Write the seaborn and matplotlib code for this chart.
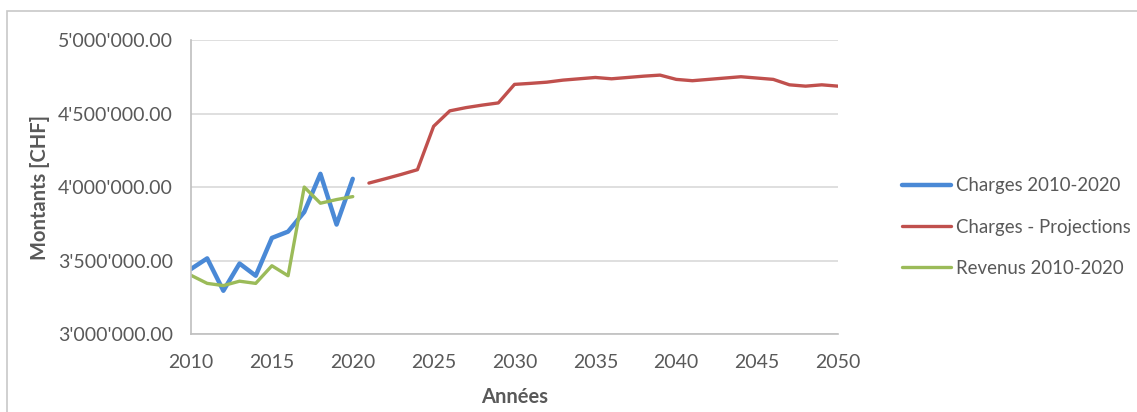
import numpy as np
import pandas as pd
import matplotlib.pyplot as plt
import seaborn as sns
from matplotlib.patches import Rectangle
from matplotlib.ticker import FuncFormatter

# Data
years_hist = list(range(2010, 2021))
charges_hist = [3443000, 3515000, 3295000, 3480000, 3397000, 3654000,
                3697000, 3830000, 4090000, 3745000, 4056000]
revenus_hist = [3400000, 3345000, 3330000, 3360000, 3345000, 3465000,
                3397000, 4000000, 3890000, 3915000, 3935000]

years_proj = list(range(2021, 2051))
charges_proj = [4027000, 4056000, 4086000, 4118000, 4413000, 4518000,
                4540000, 4557000, 4572000, 4698000, 4705000, 4713000,
                4727000, 4736000, 4745000, 4736000, 4745000, 4754000,
                4761000, 4732000, 4723000, 4732000, 4741000, 4750000,
                4741000, 4732000, 4695000, 4686000, 4695000, 4686000]

df_hist = pd.DataFrame({'Annee': years_hist, 'Charges': charges_hist, 'Revenus': revenus_hist})
df_proj = pd.DataFrame({'Annee': years_proj, 'Charges': charges_proj})

sns.set_theme(style='white')
plt.rcParams['font.family'] = ['Lato', 'DejaVu Sans']

fig = plt.figure(figsize=(11.37, 4.12), dpi=100)
ax = fig.add_axes([0.168, 0.189, 0.569, 0.714])

sns.lineplot(data=df_hist, x='Annee', y='Charges', ax=ax, color='#4a89d6', lw=3.2,
             label='Charges 2010-2020')
sns.lineplot(data=df_proj, x='Annee', y='Charges', ax=ax, color='#c0504d', lw=2.4,
             label='Charges - Projections')
sns.lineplot(data=df_hist, x='Annee', y='Revenus', ax=ax, color='#9bbb59', lw=2.4,
             label='Revenus 2010-2020')

ax.set_xlim(2010, 2050)
ax.set_ylim(3000000, 5000000)
ax.set_xticks(range(2010, 2051, 5))
ax.set_yticks(np.arange(3000000, 5000001, 500000))
ax.yaxis.set_major_formatter(FuncFormatter(lambda v, p: f"{v:,.2f}".replace(',', "'")))
ax.grid(axis='y', color='#d9d9d9', lw=1.2)
ax.set_axisbelow(True)
for s in ['top', 'right']:
    ax.spines[s].set_visible(False)
for s in ['left', 'bottom']:
    ax.spines[s].set_color('#bfbfbf')
    ax.spines[s].set_linewidth(1.2)
ax.tick_params(axis='both', colors='#595959', labelsize=14, length=0)
ax.tick_params(axis='y', pad=13)
ax.tick_params(axis='x', pad=14)
ax.set_xlabel('Années', fontsize=14.5, fontweight='bold', color='#595959', labelpad=12)
ax.set_ylabel('Montants [CHF]', fontsize=14.5, fontweight='bold', color='#595959', labelpad=6)

handles, labels = ax.get_legend_handles_labels()
ax.get_legend().remove()
fig.legend(handles, labels, loc='center left', bbox_to_anchor=(0.779, 0.449),
           frameon=False, fontsize=13.4, labelcolor='#595959', handlelength=2.6,
           handletextpad=0.25, labelspacing=1.3)

fig.patches.append(Rectangle((7 / 1137, -0.1), 1.1, 1.1 - 11 / 412,
                             transform=fig.transFigure, fill=False,
                             edgecolor='#c8c8c8', lw=1.2, figure=fig))

fig.savefig('out.png', dpi=100)
